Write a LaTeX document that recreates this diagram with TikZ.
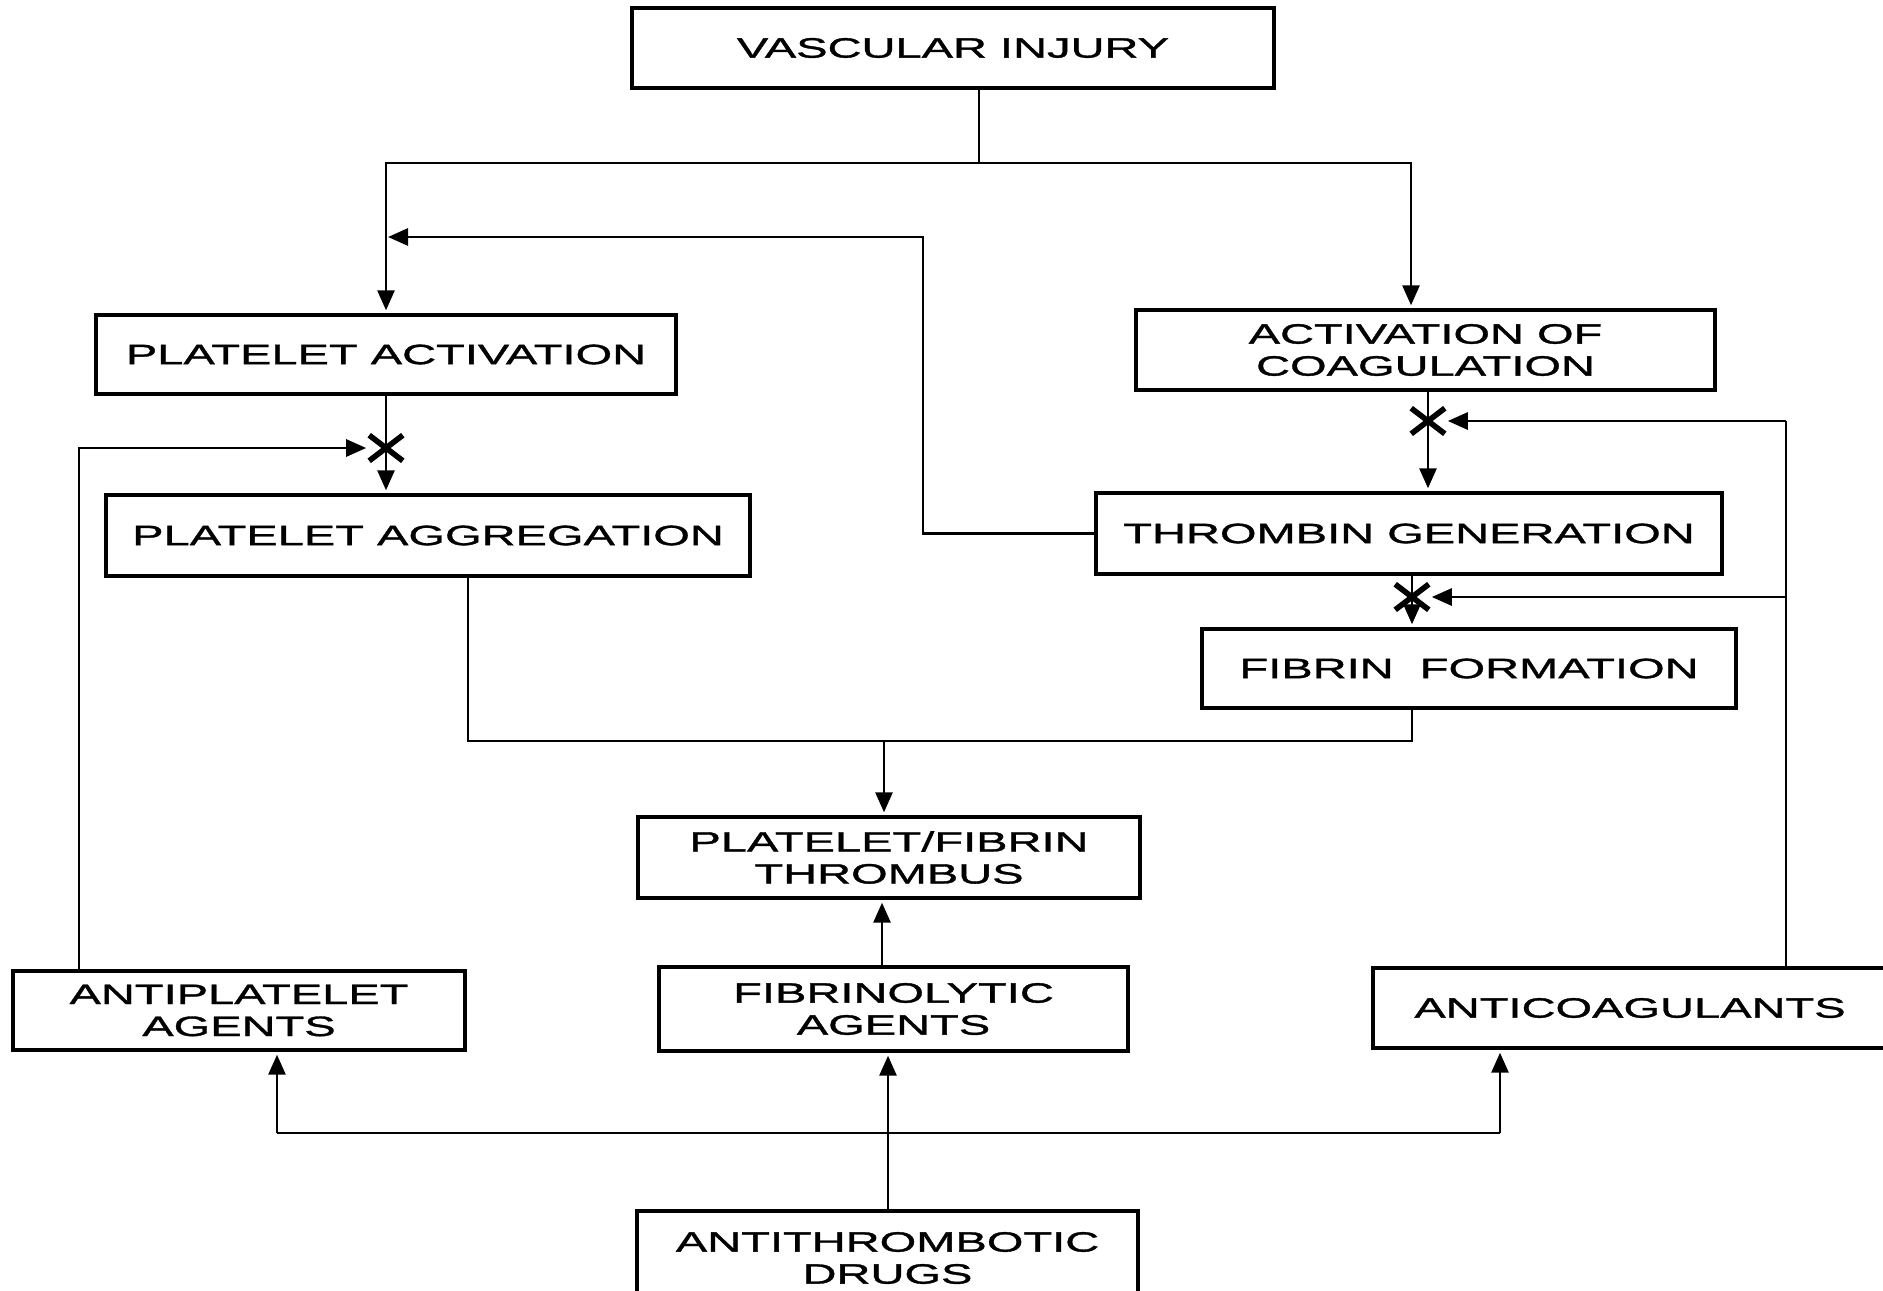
\documentclass[tikz,border=0pt]{standalone}
\usepackage{fontspec}
\newfontfamily\boxfont[FakeStretch=1.68,FakeBold=1.2]{Liberation Sans}
\usetikzlibrary{arrows.meta,shapes.misc,calc}
\begin{document}
\begin{tikzpicture}[x=0.5pt,y=-0.5pt,
  box/.style={draw, line width=1.7pt, inner sep=0pt, font=\boxfont\fontsize{14pt}{16pt}\selectfont, align=center},
  conn/.style={line width=1.4pt},
  arr/.style={conn, -{Triangle[length=10pt,width=8.5pt]}, shorten >=1.5pt},
  xmark/.style={cross out, draw, line width=2.8pt, minimum width=14pt, minimum height=10pt, inner sep=0pt}]
\useasboundingbox (0,0) rectangle (1883,1290);
\fill[white] (0,0) rectangle (1883,1290);
\clip (0,0) rectangle (1883,1290);

% boxes
\node[box, minimum width=321pt, minimum height=40pt] (vi) at (953,48) {VASCULAR INJURY};
\node[box, minimum width=290pt, minimum height=39.5pt] (pa) at (386,354.5) {PLATELET ACTIVATION};
\node[box, minimum width=322pt, minimum height=40.5pt] (pag) at (428,535.5) {PLATELET AGGREGATION};
\node[box, minimum width=289.5pt, minimum height=40pt] (aoc) at (1425.5,350) {ACTIVATION OF\\COAGULATION};
\node[box, minimum width=313pt, minimum height=40.5pt] (tg) at (1409,533.5) {THROMBIN GENERATION};
\node[box, minimum width=267pt, minimum height=39.5pt] (ff) at (1469,668.5) {FIBRIN\ \ FORMATION};
\node[box, minimum width=251pt, minimum height=40.5pt] (pft) at (889,857.5) {PLATELET/FIBRIN\\THROMBUS};
\node[box, minimum width=234.5pt, minimum height=42pt] (fa) at (893.5,1009) {FIBRINOLYTIC\\AGENTS};
\node[box, minimum width=226pt, minimum height=39.5pt] (apa) at (239,1010.5) {ANTIPLATELET\\AGENTS};
\node[box, minimum width=257pt, minimum height=40pt] (ac) at (1630,1008) {ANTICOAGULANTS};
\node[box, minimum width=250.5pt, minimum height=47pt] (atd) at (887.5,1258) {ANTITHROMBOTIC\\DRUGS};

% junction coordinates
\coordinate (j1) at (979,163);
\coordinate (jL) at (386,163);
\coordinate (jR) at (1411,163);
\coordinate (fb) at (923,237);
\coordinate (ap) at (79,448);
\coordinate (acl) at (1786,421);
\coordinate (m1) at (468,741);
\coordinate (m2) at (1412,741);
\coordinate (m) at (884,741);
\coordinate (fu) at (882,930);
\coordinate (du) at (888,1133);
\coordinate (dl) at (277,1133);
\coordinate (dr) at (1500,1133);

% X marks
\node[xmark] (xa) at (386,448) {};
\node[xmark] (xb) at (1428,421) {};
\node[xmark] (xc) at (1412,597) {};

% connectors
\draw[conn] (j1 |- vi.south) -- (j1);
\draw[arr] (j1) -- (jL) -- (jL |- pa.north);
\draw[arr] (j1) -- (jR) -- (jR |- aoc.north);
\draw[arr, shorten >=1pt] (tg.west) -| (fb) -- (fb -| jL);
\draw[arr] (pa.south) -- (pa.south |- pag.north);
\draw[arr] (ap |- apa.north) -- (ap) -- (xa.west);
\draw[arr] (xb |- aoc.south) -- (xb |- tg.north);
\draw[arr] (xc |- tg.south) -- (xc |- ff.north);
\draw[conn] (acl |- ac.north) -- (acl);
\draw[arr] (acl) -- (xb.east);
\draw[arr] (acl |- xc) -- (xc.east);
\draw[conn] (m1 |- pag.south) -- (m1) -- (m2) -- (m2 |- ff.south);
\draw[arr] (m) -- (m |- pft.north);
\draw[arr] (fu |- fa.north) -- (fu |- pft.south);
\draw[arr] (du |- atd.north) -- (du |- fa.south);
\draw[conn] (dl) -- (dr);
\draw[arr] (dl) -- (dl |- apa.south);
\draw[arr] (dr) -- (dr |- ac.south);
\end{tikzpicture}
\end{document}
